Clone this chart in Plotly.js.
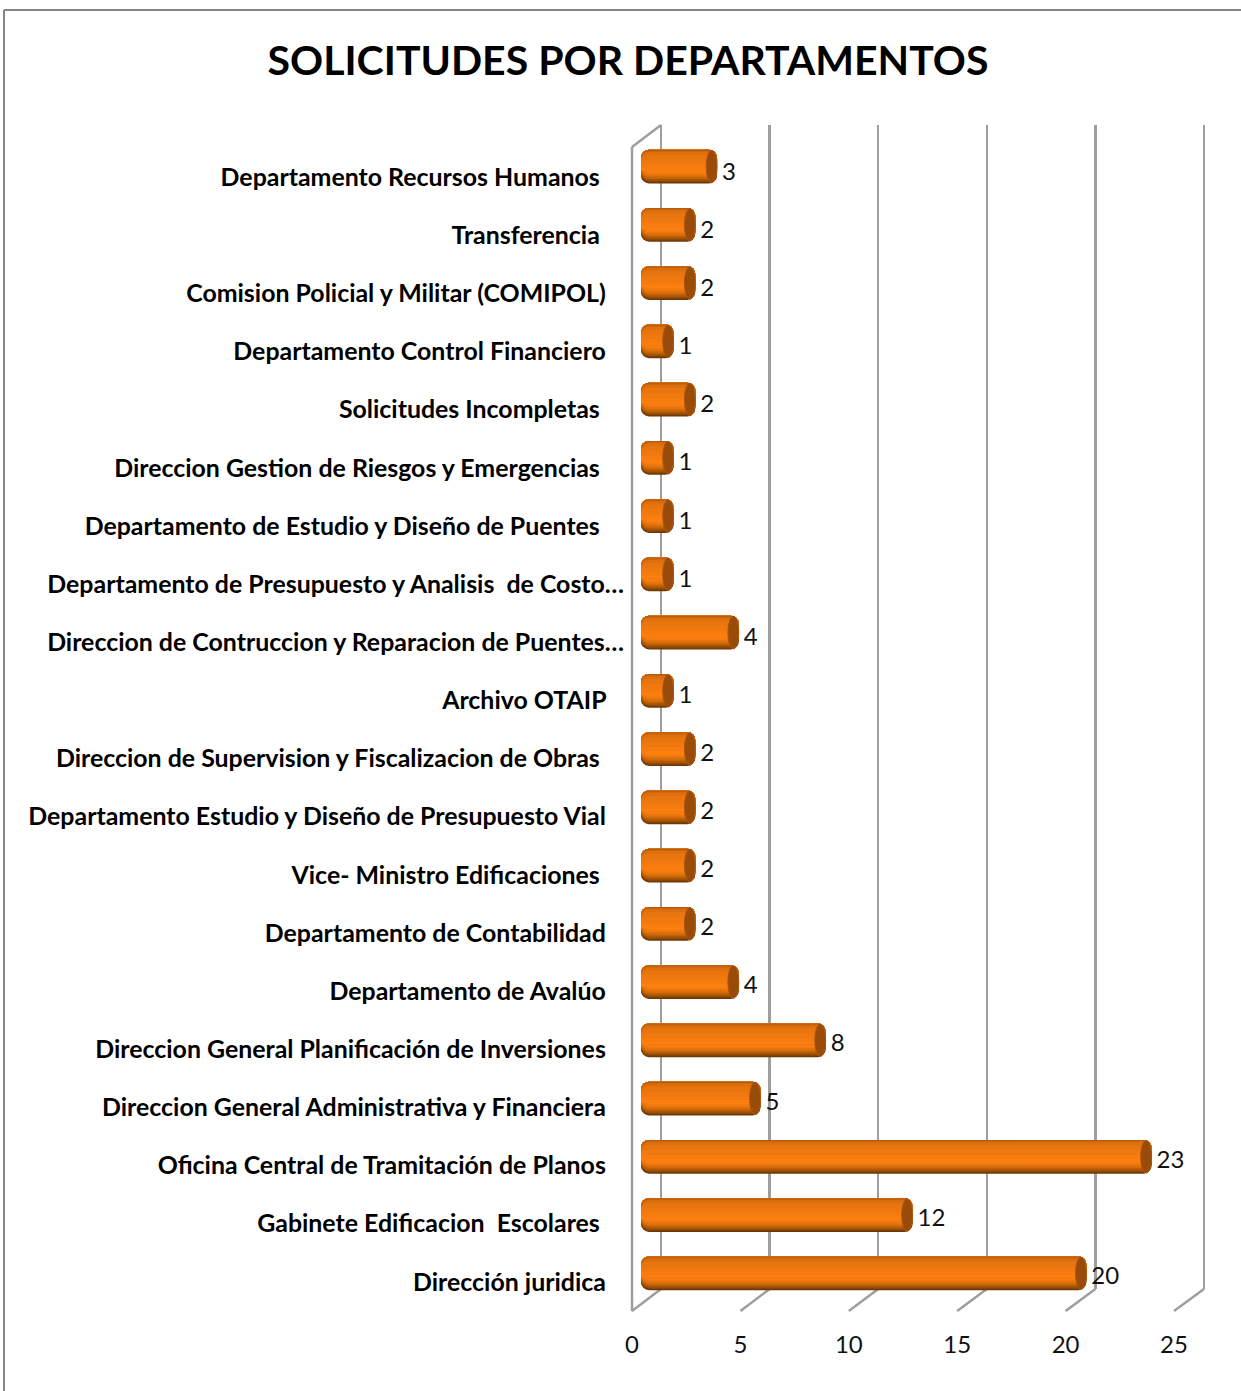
<!DOCTYPE html>
<html>
<head>
<meta charset="utf-8">
<script src="https://cdn.plot.ly/plotly-3.0.1.min.js"></script>
<style>html,body{margin:0;padding:0;background:#fff}</style>
</head>
<body>
<div id="chart" style="width:1241px;height:1391px"></div>
<script>
const chartTitle = "SOLICITUDES POR DEPARTAMENTOS";
const categories = [
  "Departamento Recursos Humanos",
  "Transferencia",
  "Comision Policial y Militar (COMIPOL)",
  "Departamento Control Financiero",
  "Solicitudes Incompletas",
  "Direccion Gestion de Riesgos y Emergencias",
  "Departamento de Estudio y Diseño de Puentes",
  "Departamento de Presupuesto y Analisis\u00A0 de Costo…",
  "Direccion de Contruccion y Reparacion de Puentes…",
  "Archivo OTAIP",
  "Direccion de Supervision y Fiscalizacion de Obras",
  "Departamento Estudio y Diseño de Presupuesto Vial",
  "Vice- Ministro Edificaciones",
  "Departamento de Contabilidad",
  "Departamento de Avalúo",
  "Direccion General Planificación de Inversiones",
  "Direccion General Administrativa y Financiera",
  "Oficina Central de Tramitación de Planos",
  "Gabinete Edificacion\u00A0 Escolares",
  "Dirección juridica"
];
const values = [3,2,2,1,2,1,1,1,4,1,2,2,2,2,4,8,5,23,12,20];
const labelPad = [4,4,3,3,4,4,4,0,0,3,4,3,4,3,3,3,3,3,4,3];
const xTicks = [0,5,10,15,20,25];

const W = 1241, H = 1391;
const X = p => p / W, Y = p => 1 - p / H;
const idx = categories.map((_, i) => i);
const yRange = [19.5, -0.5];
const barSpan = 0.58, grid = "#9e9e9e";

// vertical shading of the cylinder: [fraction from top, colour]
const lowerStops = [[1,"#6b3604"],[0.97,"#7f4105"],[0.94,"#934b06"],[0.91,"#a85607"],[0.87,"#bd6008"],[0.83,"#d26b0a"],[0.78,"#e5740c"],[0.72,"#f47b0e"],[0.66,"#fe800f"]];
const upperStops = [[0,"#b65b0e"],[0.03,"#cc660e"],[0.07,"#dd6f0d"],[0.15,"#e8750e"],[0.3,"#ef790e"],[0.45,"#f67c0f"],[0.55,"#fc7f0f"]];
const peak = 0.62;

function layer(t, b, color) {
  return {
    type: "bar", orientation: "h", xaxis: "x3", yaxis: "y3",
    y: idx, x: values.map(v => v + 0.5), base: -0.5,
    width: (b - t) * barSpan, offset: -barSpan / 2 + t * barSpan,
    marker: {color, cornerradius: 8, line: {width: 0}},
    hoverinfo: "skip", showlegend: false
  };
}
const traces = [];
traces.push({type:"scatter", mode:"none", x:[0,25], y:[0,19], xaxis:"x", yaxis:"y", hoverinfo:"skip", showlegend:false});
traces.push({type:"scatter", mode:"none", x:[0,25], y:[0,19], xaxis:"x2", yaxis:"y2", hoverinfo:"skip", showlegend:false});
lowerStops.forEach(s => traces.push(layer(0, s[0], s[1])));
upperStops.forEach(s => traces.push(layer(s[0], peak, s[1])));
traces.push({
  type:"scatter", mode:"text", xaxis:"x4", yaxis:"y4", x: values, y: idx,
  text: values.map(String), textposition:"middle right", cliponaxis:false,
  textfont:{family:"Lato", size:24, color:"#111"}, hoverinfo:"skip", showlegend:false
});

const capShapes = values.map((v, i) => ({
  type:"circle", xref:"x3", yref:"y3", layer:"above",
  x0: v - 0.5, x1: v, y0: i - barSpan / 2 + 0.01, y1: i + barSpan / 2 - 0.01,
  fillcolor:"#994b09", line:{color:"#ad540b", width:1}
}));

const line = (x0,y0,x1,y1,color,width) => ({type:"line", xref:"paper", yref:"paper", layer:"below",
  x0:X(x0), y0:Y(y0), x1:X(x1), y1:Y(y1), line:{color, width}});
const wallShapes = [
  line(4,10,4,1391,"#868686",2), line(4,10,1241,10,"#868686",2),
  line(632,147,632,1311,grid,2.5), line(632,147,661,125,grid,2.5)
];
xTicks.forEach(t => {
  const fx = 632 + t * 21.68, bx = 661 + t * 21.72;
  wallShapes.push(line(fx,1311,bx,1289,grid,2.5));
});
const hidden = {showgrid:false, zeroline:false, showline:false, showticklabels:false, ticks:""};

const layout = {
  width: W, height: H, margin:{l:0,r:0,t:0,b:0},
  paper_bgcolor:"#fff", plot_bgcolor:"rgba(0,0,0,0)",
  barmode:"overlay", showlegend:false, hovermode:false,
  title:{text:chartTitle, x:X(628), xanchor:"center", xref:"paper", y:Y(61), yanchor:"middle", yref:"paper",
         font:{family:"Lato", size:41, weight:700, color:"#000"}},
  xaxis:{domain:[X(632),X(1174)], range:[0,25], anchor:"y", tickvals:xTicks, showgrid:false, zeroline:false, showline:false,
         ticks:"", ticklabelstandoff:17, tickfont:{family:"Lato", size:24, color:"#111"}},
  yaxis:{domain:[Y(1311),Y(148)], range:yRange, anchor:"x", tickmode:"array", tickvals:idx,
         ticktext:categories.map((c,i)=>c+"\u00A0".repeat(labelPad[i])),
         showgrid:false, zeroline:false, showline:false, ticks:"", ticklabelstandoff:7,
         tickfont:{family:"Lato", size:24.9, weight:700, color:"#000"}},
  xaxis2:{domain:[X(661),X(1208.3)], range:[0,25.2], anchor:"y2", dtick:5, tick0:0, showgrid:true, gridcolor:grid, gridwidth:2.5,
          zeroline:true, zerolinecolor:grid, zerolinewidth:2.5, showline:false, showticklabels:false, ticks:""},
  yaxis2:Object.assign({domain:[Y(1289),Y(125)], range:yRange, anchor:"x2"}, hidden),
  xaxis3:Object.assign({domain:[X(641),X(1195)], range:[-0.5,25], anchor:"y3"}, hidden),
  yaxis3:Object.assign({domain:[Y(1302.4),Y(137.4)], range:yRange, anchor:"x3"}, hidden),
  xaxis4:Object.assign({domain:[X(646),X(1200)], range:[-0.5,25], anchor:"y4"}, hidden),
  yaxis4:Object.assign({domain:[Y(1306.95),Y(144.95)], range:yRange, anchor:"x4"}, hidden),
  shapes: wallShapes.concat(capShapes)
};
Plotly.newPlot("chart", traces, layout, {displayModeBar:false, staticPlot:true});
</script>
</body>
</html>
